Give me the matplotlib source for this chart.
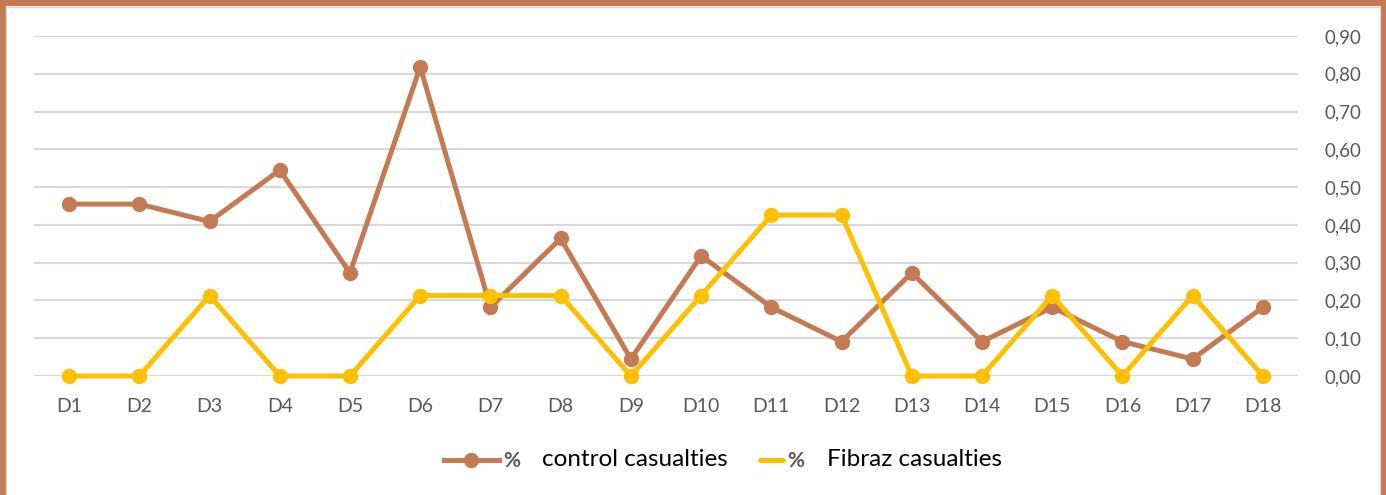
import matplotlib.pyplot as plt
from matplotlib.lines import Line2D
from matplotlib.patches import Rectangle
from matplotlib.ticker import FuncFormatter, MultipleLocator

plt.rcParams["font.family"] = ["Lato", "DejaVu Sans"]

days = [f"D{i}" for i in range(1, 19)]
control = [0.455, 0.455, 0.409, 0.545, 0.273, 0.818, 0.182, 0.364, 0.045,
           0.318, 0.182, 0.091, 0.273, 0.091, 0.182, 0.091, 0.045, 0.182]
fibraz = [0.0, 0.0, 0.213, 0.0, 0.0, 0.213, 0.213, 0.213, 0.0,
          0.213, 0.426, 0.426, 0.0, 0.0, 0.213, 0.0, 0.213, 0.0]

brown = "#C47B53"
yellow = "#FFC000"
grey = "#595959"


class ShortLine:
    # legend handle cut short, like the yellow one in the original
    def legend_artist(self, legend, orig_handle, fontsize, handlebox):
        x0, y0 = handlebox.xdescent, handlebox.ydescent
        w, h = handlebox.width, handlebox.height
        line = Line2D([x0 + 0.58 * w, x0 + w], [y0 + h / 2] * 2,
                      color=orig_handle.get_color(), lw=3.6, solid_capstyle="round")
        handlebox.add_artist(line)
        return line


fig = plt.figure(figsize=(13.86, 4.95), dpi=100)
ax = fig.add_axes([34 / 1386, 1 - 376 / 495, (1298 - 34) / 1386, (376 - 36) / 495])

x = list(range(len(days)))
l1, = ax.plot(x, control, color=brown, lw=3.6, marker="o", ms=10, zorder=3, clip_on=False)
l2, = ax.plot(x, fibraz, color=yellow, lw=3.6, marker="o", ms=10, zorder=4, clip_on=False)

ax.set_xlim(-0.5, len(days) - 0.5)
ax.set_ylim(0, 0.9)
ax.set_xticks(x)
ax.set_xticklabels(days)
ax.yaxis.set_major_locator(MultipleLocator(0.1))
ax.yaxis.set_major_formatter(FuncFormatter(lambda v, p: f"{v:.2f}".replace(".", ",")))
ax.yaxis.tick_right()
ax.tick_params(length=0, labelsize=14, colors=grey)
ax.tick_params(axis="y", labelsize=13.5, pad=19)
ax.tick_params(axis="x", pad=16)
ax.grid(axis="y", color="#D9D9D9", lw=1.5)
ax.set_axisbelow(True)
for s in ax.spines.values():
    s.set_visible(False)

leg = ax.legend([l1, l2], ["%", "%"], loc="center", bbox_to_anchor=(0.467, -0.25),
                ncol=2, frameon=False, handlelength=2.64, handletextpad=0.2,
                columnspacing=10.0, prop={"size": 15, "weight": "bold"},
                handler_map={l2: ShortLine()})
for t in leg.get_texts():
    t.set_color(grey)
names = ["control casualties", "Fibraz casualties"]
for t, name in zip(leg.get_texts(), names):
    ax.annotate(name, xy=(1, 0.5), xycoords=t, xytext=(16, 1),
                textcoords="offset points", va="center", fontsize=17.5,
                color="black", zorder=10, annotation_clip=False)

# frame: brown border on left/top/right, open at the bottom (cropped)
fig.add_artist(Rectangle((0, -0.2), 1, 1.2, transform=fig.transFigure, fill=False,
                         ec=brown, lw=8))
fig.add_artist(Rectangle((6 / 1386, -0.2), 1 - 12 / 1386, 1.2 - 7 / 495,
                         transform=fig.transFigure, fill=False, ec="#D9D9D9", lw=1))

fig.savefig("out.png", dpi=100)
